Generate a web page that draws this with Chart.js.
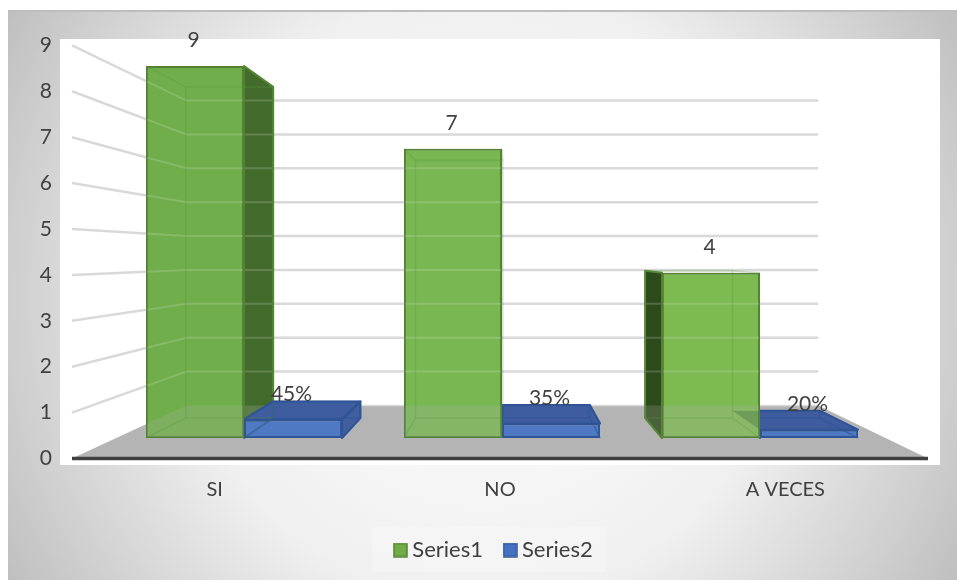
<!DOCTYPE html>
<html>
<head>
<meta charset="utf-8">
<script src="https://cdn.jsdelivr.net/npm/chart.js@4"></script>
<style>
html,body{margin:0;padding:0;background:#fff;width:957px;height:580px;overflow:hidden}
#bg{position:absolute;left:8px;top:10px;width:949px;height:568px;border-top:2px solid #bdbdbd;
background:radial-gradient(ellipse 70% 120% at 50% 50%,#ffffff 0%,#f0f0f0 45%,#cfcfcf 71%,#bcbcbc 85%,#bababa 100%)}
canvas{position:absolute;left:0;top:0}
</style>
</head>
<body>
<div id="bg"></div>
<canvas id="c" width="957" height="580"></canvas>
<script>
const categories = ['SI', 'NO', 'A VECES'];
const series1 = [9, 7, 4];
const series2 = [0.45, 0.35, 0.2];
const yTickValues = [0, 1, 2, 3, 4, 5, 6, 7, 8, 9];
const gridValues = [1, 2, 3, 4, 5, 6, 7, 8, 9];

const TEXT = '#404040';
const FONT = 'Lato, "Open Sans", sans-serif';
const view = {vx: 509, vy: 256, wallDepth: 0.738, barDepth: 0.89};
const green = {solid: '#70ad47', edge: '#548235', front: ['#6fae4a', '#78b752', '#7dba52'],
  inner: 'rgba(86,150,56,0.28)', outRight: '#436c2c', outLeft: '#2d4a1b', cap: 'rgba(80,130,50,0.10)'};
const blue = {solid: '#4472c4', edge: '#2f5597', front: ['#5079c4', '#5079c4', '#5079c4'],
  inner: 'rgba(47,85,151,0.6)', outRight: '#3f5f9f', outLeft: '#3f5f9f', cap: '#3f5d9e'};

const back = (x, y, k) => [view.vx + (x - view.vx) * k, view.vy + (y - view.vy) * k];

function poly(ctx, pts) {
  ctx.beginPath();
  pts.forEach((p, i) => i ? ctx.lineTo(p[0], p[1]) : ctx.moveTo(p[0], p[1]));
  ctx.closePath();
}

function drawGrid(ctx, chart, color, width) {
  const s = chart.scales.y, a = chart.chartArea;
  ctx.strokeStyle = color; ctx.lineWidth = width;
  gridValues.forEach(v => {
    const yf = s.getPixelForValue(v);
    const [xl, yb] = back(a.left, yf, view.wallDepth);
    const [xr] = back(a.right, yf, view.wallDepth);
    ctx.beginPath();
    ctx.moveTo(a.left, yf); ctx.lineTo(xl, yb); ctx.lineTo(xr, yb);
    ctx.stroke();
  });
}

function floorPts(chart) {
  const a = chart.chartArea, y0 = chart.scales.y.getPixelForValue(0);
  const [xl, yb] = back(a.left, y0, view.wallDepth);
  const [xr] = back(a.right, y0, view.wallDepth);
  return [[a.left, y0], [xl, yb], [xr, yb], [a.right, y0]];
}

// what can be seen through a translucent green face
function seeThrough(ctx, chart, pts) {
  ctx.save();
  poly(ctx, pts); ctx.clip();
  drawGrid(ctx, chart, 'rgba(225,235,220,0.2)', 2);
  poly(ctx, floorPts(chart));
  ctx.fillStyle = 'rgba(180,180,180,0.22)';
  ctx.fill();
  ctx.restore();
}

function barBox(el) {
  const p = el.getProps(['x', 'y', 'base', 'width'], true);
  const L = p.x - p.width / 2, R = p.x + p.width / 2, T = p.y, B = p.base;
  const k = view.barDepth;
  return {L, R, T, B, fl: [L, T], fr: [R, T], nr: [R, B], nl: [L, B],
    bl: back(L, T, k), br: back(R, T, k), cr: back(R, B, k), cl: back(L, B, k)};
}

function drawSides(ctx, chart, b, st, isGreen) {
  ctx.lineJoin = 'round';
  poly(ctx, [b.fl, b.fr, b.br, b.bl]);
  ctx.fillStyle = st.cap; ctx.fill();
  if (b.br[0] > b.R + 1) {
    const f = [b.fr, b.br, b.cr, b.nr];
    poly(ctx, f); ctx.fillStyle = st.outRight; ctx.fill();
    if (isGreen) seeThrough(ctx, chart, f);
    poly(ctx, f); ctx.strokeStyle = st.edge; ctx.lineWidth = 2; ctx.stroke();
  }
  if (b.bl[0] < b.L - 1) {
    const f = [b.fl, b.bl, b.cl, b.nl];
    poly(ctx, f); ctx.fillStyle = st.outLeft; ctx.fill();
    if (isGreen) seeThrough(ctx, chart, f);
    poly(ctx, f); ctx.strokeStyle = st.edge; ctx.lineWidth = 2; ctx.stroke();
  }
  if (!isGreen) {
    poly(ctx, [b.fl, b.fr, b.br, b.bl]);
    ctx.strokeStyle = st.edge; ctx.lineWidth = 2; ctx.stroke();
  }
}

function drawInner(ctx, b, st) {
  ctx.strokeStyle = st.inner; ctx.lineWidth = 1.5;
  poly(ctx, [b.bl, b.br, b.cr, b.cl]); ctx.stroke();
  [[b.fl, b.bl], [b.fr, b.br], [b.nl, b.cl], [b.nr, b.cr]].forEach(s => {
    ctx.beginPath(); ctx.moveTo(s[0][0], s[0][1]); ctx.lineTo(s[1][0], s[1][1]); ctx.stroke();
  });
}

const scene = {
  id: 'scene',
  afterLayout(chart) {
    chart.legend.left += 26;
  },
  beforeDraw(chart) {
    const ctx = chart.ctx, a = chart.chartArea;
    ctx.save();
    ctx.fillStyle = 'rgba(255,255,255,0.22)';
    ctx.fillRect(chart.legend.left + (chart.legend.right - chart.legend.left) / 2 - 124, chart.legend.top + chart.legend.height / 2 - 15, 234, 45);
    ctx.fillStyle = '#ffffff';
    ctx.fillRect(a.left - 12, a.top, a.width + 24, a.height);
    ctx.restore();
  },
  beforeDatasetsDraw(chart) {
    const ctx = chart.ctx;
    ctx.save();
    drawGrid(ctx, chart, '#d9d9d9', 2.5);
    const fl = floorPts(chart);
    poly(ctx, fl); ctx.fillStyle = '#b4b4b4'; ctx.fill();
    ctx.strokeStyle = '#d9d9d9'; ctx.lineWidth = 1.5;
    ctx.beginPath(); ctx.moveTo(fl[1][0], fl[1][1]); ctx.lineTo(fl[2][0], fl[2][1]); ctx.stroke();
    ctx.strokeStyle = '#404040'; ctx.lineWidth = 3.5;
    ctx.beginPath(); ctx.moveTo(fl[0][0], fl[0][1]); ctx.lineTo(fl[3][0], fl[3][1]); ctx.stroke();

    const g = chart.getDatasetMeta(0).data, bl = chart.getDatasetMeta(1).data;
    categories.forEach((c, i) => {
      const gb = barBox(g[i]), bb = barBox(bl[i]);
      if (g[i].x < view.vx) {
        drawSides(ctx, chart, gb, green, true);
        drawSides(ctx, chart, bb, blue, false);
      } else {
        drawSides(ctx, chart, bb, blue, false);
        drawSides(ctx, chart, gb, green, true);
      }
    });
    ctx.restore();
  },
  afterDatasetsDraw(chart) {
    const ctx = chart.ctx;
    ctx.save();
    const g = chart.getDatasetMeta(0).data, bl = chart.getDatasetMeta(1).data;
    categories.forEach((c, i) => {
      const gb = barBox(g[i]), bb = barBox(bl[i]);
      const frontRect = [[gb.L + 1, gb.T + 1], [gb.R - 1, gb.T + 1], [gb.R - 1, gb.B - 1], [gb.L + 1, gb.B - 1]];
      seeThrough(ctx, chart, frontRect);
      // blue box seen through the green front
      ctx.save();
      poly(ctx, frontRect); ctx.clip();
      poly(ctx, [bb.fl, bb.fr, bb.br, bb.bl]);
      ctx.fillStyle = 'rgba(60,105,65,0.35)'; ctx.fill();
      ctx.restore();
      drawInner(ctx, gb, green);
      // blue inner edges stay behind the green front
      ctx.save();
      ctx.beginPath();
      ctx.rect(bb.L, 0, chart.width - bb.L, chart.height);
      ctx.clip();
      drawInner(ctx, bb, blue);
      ctx.restore();
    });
    ctx.font = '21px ' + FONT;
    ctx.fillStyle = TEXT;
    ctx.textAlign = 'center';
    ctx.textBaseline = 'middle';
    chart.data.datasets.forEach((ds, d) => {
      chart.getDatasetMeta(d).data.forEach((el, i) => {
        ctx.fillText(ds.valueText(ds.data[i].y), el.x - 1.5, el.y - 25.5);
      });
    });
    ctx.restore();
  }
};

function swatch(fill, edge) {
  const c = document.createElement('canvas');
  c.width = 15; c.height = 15;
  const x = c.getContext('2d');
  x.fillStyle = fill; x.fillRect(1, 1, 13, 13);
  x.strokeStyle = edge; x.lineWidth = 1.5; x.strokeRect(1, 1, 13, 13);
  return c;
}

new Chart(document.getElementById('c'), {
  type: 'bar',
  plugins: [scene],
  data: {
    labels: categories,
    datasets: [
      {label: 'Series1', xAxisID: 'xBar', yAxisID: 'yBar',
       data: categories.map((c, i) => ({x: i, y: series1[i]})),
       backgroundColor: green.front, borderColor: green.edge, borderWidth: 2, borderSkipped: false,
       valueText: v => String(v)},
      {label: 'Series2', xAxisID: 'xBar', yAxisID: 'yBar',
       data: categories.map((c, i) => ({x: i, y: series2[i]})),
       backgroundColor: blue.front, borderColor: blue.edge, borderWidth: 2, borderSkipped: false,
       valueText: v => Math.round(v * 100) + '%'}
    ]
  },
  options: {
    responsive: false,
    animation: false,
    events: [],
    categoryPercentage: 0.76,
    barPercentage: 1,
    layout: {padding: {left: 38, right: 29, top: 39, bottom: 9}},
    plugins: {
      tooltip: {enabled: false},
      title: {display: false},
      legend: {
        position: 'bottom',
        labels: {
          color: TEXT,
          font: {family: FONT, size: 22},
          usePointStyle: true,
          pointStyleWidth: 2,
          boxHeight: 14,
          padding: 26,
          generateLabels: chart => [
            {text: 'Series1', pointStyle: swatch(green.solid, green.edge), fontColor: TEXT, lineWidth: 0, datasetIndex: 0},
            {text: 'Series2', pointStyle: swatch(blue.solid, blue.edge), fontColor: TEXT, lineWidth: 0, datasetIndex: 1}
          ]
        }
      }
    },
    scales: {
      x: {
        type: 'category', axis: 'x', position: 'bottom', offset: true,
        grid: {display: false, drawTicks: false}, border: {display: false},
        ticks: {color: TEXT, font: {family: FONT, size: 20}, padding: 13, maxRotation: 0},
        afterFit: s => { s.height = 48; }
      },
      y: {
        type: 'linear', axis: 'y', position: 'left', min: -0.1416, max: 9.139,
        afterBuildTicks: s => { s.ticks = yTickValues.map(v => ({value: v})); },
        grid: {display: false, drawTicks: false}, border: {display: false},
        ticks: {color: TEXT, font: {family: FONT, size: 21}, padding: 20, autoSkip: false},
        afterFit: s => { s.width = 34; }
      },
      xBar: {
        type: 'linear', axis: 'x', display: false, offset: false, min: -0.6667, max: 2.6512,
        afterBuildTicks: s => { s.ticks = categories.map((c, i) => ({value: i})); },
        grid: {display: false}
      },
      yBar: {
        type: 'linear', axis: 'y', display: false, min: -0.653, max: 9.654,
        grid: {display: false}
      }
    }
  }
});
</script>
</body>
</html>
